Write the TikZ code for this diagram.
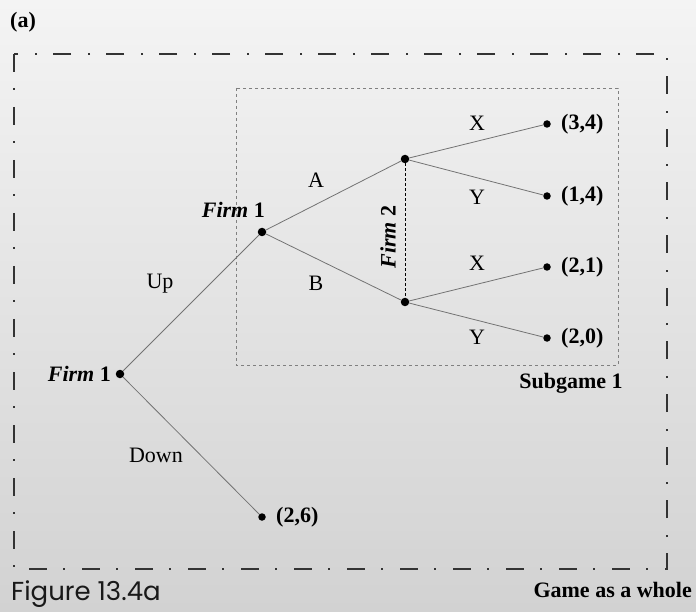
\documentclass[tikz,border=0pt]{standalone}
\usepackage{fontspec}
\setmainfont{Liberation Serif}
\newfontfamily\figfont{Poppins}
\definecolor{bgtop}{HTML}{F4F4F4}
\definecolor{bgbot}{HTML}{D2D2D2}
\begin{document}
\begin{tikzpicture}[x=1pt,y=-1pt,
  dot/.style={circle,fill=black,inner sep=0pt,minimum size=8.5pt},
  tdot/.style={circle,fill=black,inner sep=0pt,minimum size=7.5pt},
  edge/.style={draw=black!55,line width=0.8pt},
  lbl/.style={inner sep=0pt,font=\fontsize{22}{26}\selectfont},
  blbl/.style={inner sep=0pt,font=\fontsize{22}{26}\selectfont\bfseries},
  firm/.style={inner sep=0pt,font=\fontsize{22}{26}\selectfont\bfseries},
  outerbox/.style={draw=black!80,line width=1.2pt,dash pattern=on 18pt off 16pt on 2pt off 17pt},
  subbox/.style={draw=black!50,line width=0.8pt,dash pattern=on 3pt off 3pt},
  infoset/.style={draw=black,line width=0.8pt,dash pattern=on 3pt off 2pt}]
\shade[top color=bgtop,bottom color=bgbot] (0,0) rectangle (696,612);
\useasboundingbox (0,0) rectangle (696,612);
% boxes
\draw[outerbox] (14,54) -- (14,569) -- (667,569) -- (667,54) -- cycle;
\draw[subbox] (236,88) rectangle (618,365);
% decision nodes
\node[dot] (r) at (120,374) {};
\node[dot] (f1) at (262,232) {};
\node[dot] (f2a) at (405,159) {};
\node[dot] (f2b) at (405,302) {};
% terminal nodes
\node[tdot] (t1) at (547,124) {};
\node[tdot] (t2) at (547,196) {};
\node[tdot] (t3) at (547,267) {};
\node[tdot] (t4) at (547,338) {};
\node[tdot] (t5) at (262,517) {};
% edges
\draw[edge] (r) -- (f1);
\draw[edge] (r) -- (t5);
\draw[edge] (f1) -- (f2a);
\draw[edge] (f1) -- (f2b);
\draw[edge] (f2a) -- (t1);
\draw[edge] (f2a) -- (t2);
\draw[edge] (f2b) -- (t3);
\draw[edge] (f2b) -- (t4);
\draw[infoset] (f2a) -- (f2b);
% labels
\node[blbl,anchor=west] (la) at (10,22) {(a)};
\node[firm,anchor=east] (lr) at (111,374) {\textit{Firm} 1};
\node[firm,anchor=east] (lf1) at (265,210) {\textit{Firm} 1};
\node[firm,rotate=90] (lf2) at (388,237) {\textit{Firm} 2};
\node[lbl] (lup) at (160,284) {Up};
\node[lbl] (ldown) at (156,455) {Down};
\node[lbl] (lA) at (316,180) {A};
\node[lbl] (lB) at (316,283) {B};
\node[lbl] (lx1) at (477,123) {X};
\node[lbl] (ly1) at (477,197) {Y};
\node[lbl] (lx2) at (477,263) {X};
\node[lbl] (ly2) at (477,337) {Y};
\node[blbl,anchor=west] (p1) at (561,124) {(3,4)};
\node[blbl,anchor=west] (p2) at (561,196) {(1,4)};
\node[blbl,anchor=west] (p3) at (561,267) {(2,1)};
\node[blbl,anchor=west] (p4) at (561,338) {(2,0)};
\node[blbl,anchor=west] (p5) at (276,517) {(2,6)};
\node[blbl] (lsub) at (571,383) {Subgame 1};
\node[blbl,anchor=east] (lgame) at (692,590) {Game as a whole};
\node[inner sep=0pt,anchor=base west,text=black!90,font=\figfont\fontsize{26}{30}\selectfont] (lfig) at (11,600) {Figure 13.4a};
\end{tikzpicture}
\end{document}
